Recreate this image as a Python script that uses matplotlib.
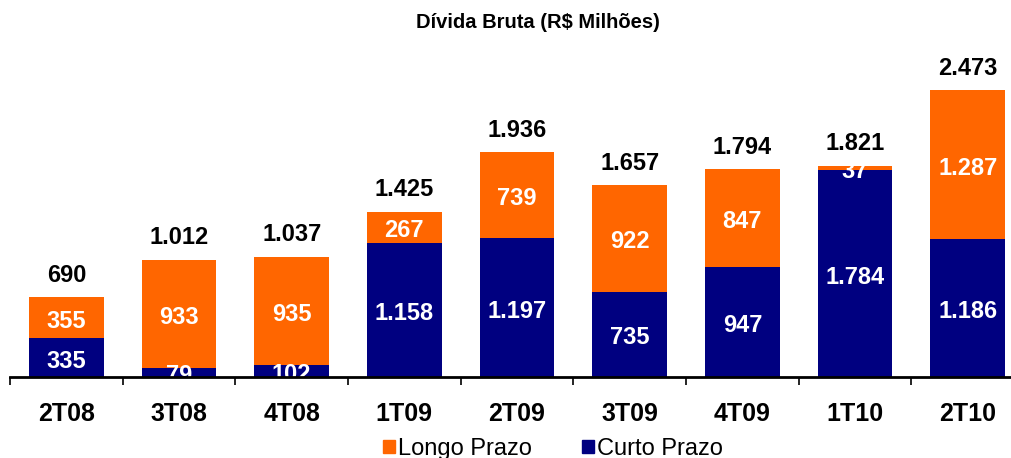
import matplotlib
matplotlib.use('Agg')
import matplotlib.pyplot as plt
from matplotlib.patches import Patch
import numpy as np

plt.rcParams['font.family'] = ['Liberation Sans', 'DejaVu Sans']

# data
periods = ['2T08', '3T08', '4T08', '1T09', '2T09', '3T09', '4T09', '1T10', '2T10']
curto = [335, 79, 102, 1158, 1197, 735, 947, 1784, 1186]
longo = [355, 933, 935, 267, 739, 922, 847, 37, 1287]
totals = [690, 1012, 1037, 1425, 1936, 1657, 1794, 1821, 2473]

navy = '#000080'
orange = '#FF6600'


def fmt(v):
    return f'{v:,}'.replace(',', '.')


W, H = 1011, 458
fig = plt.figure(figsize=(W / 100, H / 100), dpi=100)
ax = fig.add_axes([10 / W, (H - 377) / H, 1014 / W, 348 / H])

x = np.arange(len(periods))
ax.bar(x, curto, width=0.665, color=navy, zorder=2)
ax.bar(x, longo, width=0.665, bottom=curto, color=orange, zorder=2)

for i in range(len(periods)):
    ax.annotate(fmt(curto[i]), (x[i], curto[i] / 2), xytext=(0, -2.5),
                textcoords='offset points', ha='center', va='center',
                color='white', fontsize=17, fontweight='bold', zorder=2.4)
    ax.annotate(fmt(longo[i]), (x[i], curto[i] + longo[i] / 2), xytext=(0, -2.5),
                textcoords='offset points', ha='center', va='center',
                color='white', fontsize=17, fontweight='bold', zorder=2.4)
    ax.annotate(fmt(totals[i]), (x[i], totals[i]), xytext=(0, 11),
                textcoords='offset points', ha='center', va='baseline',
                fontsize=17, fontweight='bold', color='black')

ax.set_xlim(-0.5, len(periods) - 0.5)
ax.set_ylim(0, 3000)
for s in ['left', 'right', 'top']:
    ax.spines[s].set_visible(False)
ax.spines['bottom'].set_linewidth(2)
ax.spines['bottom'].set_zorder(3)
ax.set_yticks([])

ax.set_xticks(np.arange(len(periods) + 1) - 0.5)
ax.set_xticklabels([])
ax.tick_params(axis='x', which='major', direction='out', length=6, width=1.2)
ax.set_xticks(x, minor=True)
ax.set_xticklabels(periods, minor=True, fontsize=18, fontweight='bold')
ax.tick_params(axis='x', which='minor', length=0, pad=18)

fig.text(538 / W, 1 - 23 / H, 'Dívida Bruta (R$ Milhões)', ha='center', va='center',
         fontsize=14.5, fontweight='bold')

handles = [Patch(color=orange), Patch(color=navy)]
fig.legend(handles, ['Longo Prazo', 'Curto Prazo'], loc='center',
           bbox_to_anchor=(553 / W, 1 - 449 / H), ncol=2, frameon=False,
           fontsize=17, handlelength=0.5, handleheight=0.5, handletextpad=0.15,
           columnspacing=2.1, borderpad=0)

fig.savefig('out.png', dpi=100)
